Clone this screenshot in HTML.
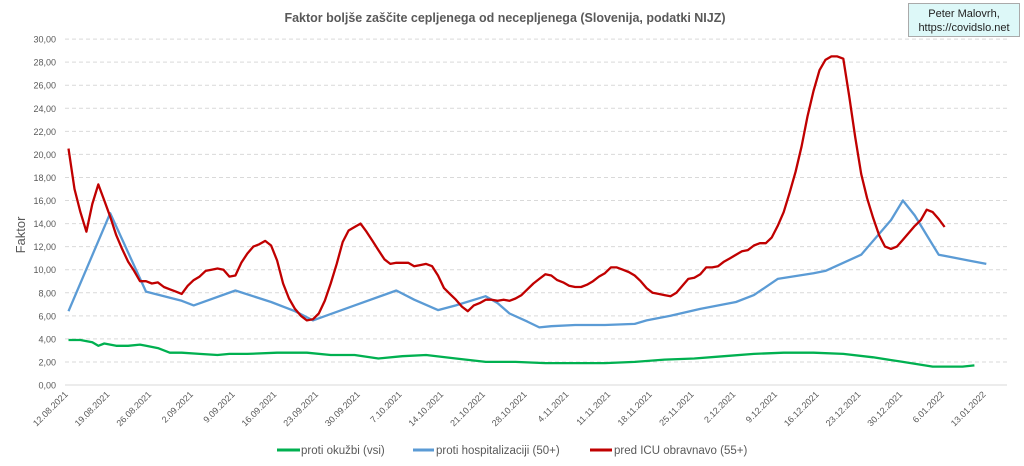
<!DOCTYPE html>
<html><head><meta charset="utf-8">
<style>
body{margin:0;background:#fff;font-family:"Liberation Sans",sans-serif;}
svg{display:block}
</style></head>
<body>
<svg id="chart" width="1024" height="466" xmlns="http://www.w3.org/2000/svg">
<text x="505" y="22" text-anchor="middle" font-size="12.5" font-weight="bold" fill="#595959">Faktor boljše zaščite cepljenega od necepljenega (Slovenija, podatki NIJZ)</text>
<g>
<rect x="908.5" y="3.5" width="111" height="33" fill="#ddf8f8" stroke="#aaa"/>
<text x="964" y="17" text-anchor="middle" font-size="11" fill="#222">Peter Malovrh,</text>
<text x="964" y="31" text-anchor="middle" font-size="11" fill="#222">https://covidslo.net</text>
</g>
<text transform="translate(25,235) rotate(-90)" text-anchor="middle" font-size="13" fill="#595959">Faktor</text>
<g id="grid"></g><g id="xt"></g><g id="series"></g>
<g>
<g><line x1="277" x2="300" y1="450" y2="450" stroke="#00b050" stroke-width="3"/><text x="301" y="454" font-size="11.5" fill="#595959">proti okužbi (vsi)</text></g>
<g><line x1="413" x2="434" y1="450" y2="450" stroke="#5b9bd5" stroke-width="3"/><text x="436" y="454" font-size="11.5" fill="#595959">proti hospitalizaciji (50+)</text></g>
<g><line x1="590" x2="612" y1="450" y2="450" stroke="#c00000" stroke-width="3"/><text x="614" y="454" font-size="11.5" fill="#595959">pred ICU obravnavo (55+)</text></g>
</g>
</svg>
<script>
const yTicks=[0,2,4,6,8,10,12,14,16,18,20,22,24,26,28,30];
const xTickLabels=["12.08.2021","19.08.2021","26.08.2021","2.09.2021","9.09.2021","16.09.2021","23.09.2021","30.09.2021","7.10.2021","14.10.2021","21.10.2021","28.10.2021","4.11.2021","11.11.2021","18.11.2021","25.11.2021","2.12.2021","9.12.2021","16.12.2021","23.12.2021","30.12.2021","6.01.2022","13.01.2022"];
const redDays=[];for(let i=0;i<=147;i++)redDays.push(i);
const redVals=[20.5,17,15,13.3,15.7,17.4,16,14.6,13,11.8,10.7,9.9,9.0,9.0,8.8,8.9,8.5,8.3,8.1,7.9,8.6,9.1,9.4,9.9,10.0,10.1,10.0,9.4,9.5,10.6,11.4,12.0,12.2,12.5,12.1,10.8,8.8,7.5,6.6,6.0,5.6,5.7,6.2,7.3,8.8,10.5,12.4,13.4,13.7,14.0,13.3,12.5,11.7,10.9,10.5,10.6,10.6,10.6,10.3,10.4,10.5,10.3,9.5,8.4,7.9,7.4,6.8,6.4,6.9,7.1,7.4,7.4,7.3,7.4,7.3,7.5,7.8,8.3,8.8,9.2,9.6,9.5,9.1,8.9,8.6,8.5,8.5,8.7,9.0,9.4,9.7,10.2,10.2,10.0,9.8,9.5,9.0,8.4,8.0,7.9,7.8,7.7,8.0,8.6,9.2,9.3,9.6,10.2,10.2,10.3,10.7,11.0,11.3,11.6,11.7,12.1,12.3,12.3,12.8,13.8,15.0,16.7,18.5,20.7,23.3,25.5,27.3,28.2,28.5,28.5,28.3,25.0,21.5,18.3,16.2,14.5,13.0,12.0,11.8,12.0,12.6,13.2,13.8,14.3,15.2,15.0,14.4,13.7];
const blueDays=[0,7,13,19,21,28,34,38,41,48,55,58,62,65,70,72,74,77,79,81,85,90,95,97,101,106,112,115,119,125,127,133,138,140,142,144,146,148,151,154];
const blueVals=[6.4,14.9,8.1,7.3,6.9,8.2,7.2,6.4,5.6,6.9,8.2,7.4,6.5,6.9,7.7,7.1,6.2,5.5,5.0,5.1,5.2,5.2,5.3,5.6,6.0,6.6,7.2,7.8,9.2,9.7,9.9,11.3,14.3,16.0,14.7,13.0,11.3,11.1,10.8,10.5];
const greenDays=[0,2,4,5,6,8,10,12,13,15,17,19,22,25,27,30,35,40,44,48,52,56,60,65,70,75,80,90,95,100,105,110,115,120,125,130,135,140,145,150,152];
const greenVals=[3.9,3.9,3.7,3.4,3.6,3.4,3.4,3.5,3.4,3.2,2.8,2.8,2.7,2.6,2.7,2.7,2.8,2.8,2.6,2.6,2.3,2.5,2.6,2.3,2.0,2.0,1.9,1.9,2.0,2.2,2.3,2.5,2.7,2.8,2.8,2.7,2.4,2.0,1.6,1.6,1.7];
const NS="http://www.w3.org/2000/svg";
const X0=68.5,PXD=5.96,Y0=385,PXU=11.53;
function xs(d){return X0+d*PXD;}
function ys(v){return Y0-v*PXU;}
function mk(t,a,p){const e=document.createElementNS(NS,t);for(const k in a)e.setAttribute(k,a[k]);p.appendChild(e);return e;}
const grid=document.getElementById('grid');
yTicks.forEach(v=>{
  const y=ys(v);
  const l=mk('line',{x1:65,x2:1007,y1:y,y2:y,stroke:v===0?'#d9d9d9':'#d9d9d9','stroke-dasharray':v===0?'':'4,3','stroke-width':1},grid);
  
  
  const t=mk('text',{x:56,y:y+3.5,'text-anchor':'end','font-size':9,fill:'#595959'},grid);
  t.textContent=v.toFixed(2).replace('.',',');
  
  
});
const xt=document.getElementById('xt');
xTickLabels.forEach((s,i)=>{
  const x=xs(i*7),y=395;
  const t=mk('text',{x:x,y:y,'text-anchor':'end','font-size':9,fill:'#595959',transform:`rotate(-45 ${x} ${y})`},xt);
  t.textContent=s;
  
  
});
const ser=document.getElementById('series');
function line(days,vals,color,name){
  const d=days.map((dd,i)=>(i?'L':'M')+xs(dd).toFixed(1)+','+ys(vals[i]).toFixed(1)).join('');
  const p=mk('path',{d:d,fill:'none',stroke:color,'stroke-width':2.3,'stroke-linejoin':'round'},ser);
  
  
}
line(greenDays,greenVals,'#00b050','series-okuzbi');
line(blueDays,blueVals,'#5b9bd5','series-hospitalizacije');
line(redDays,redVals,'#c00000','series-icu');
</script>
</body></html>
